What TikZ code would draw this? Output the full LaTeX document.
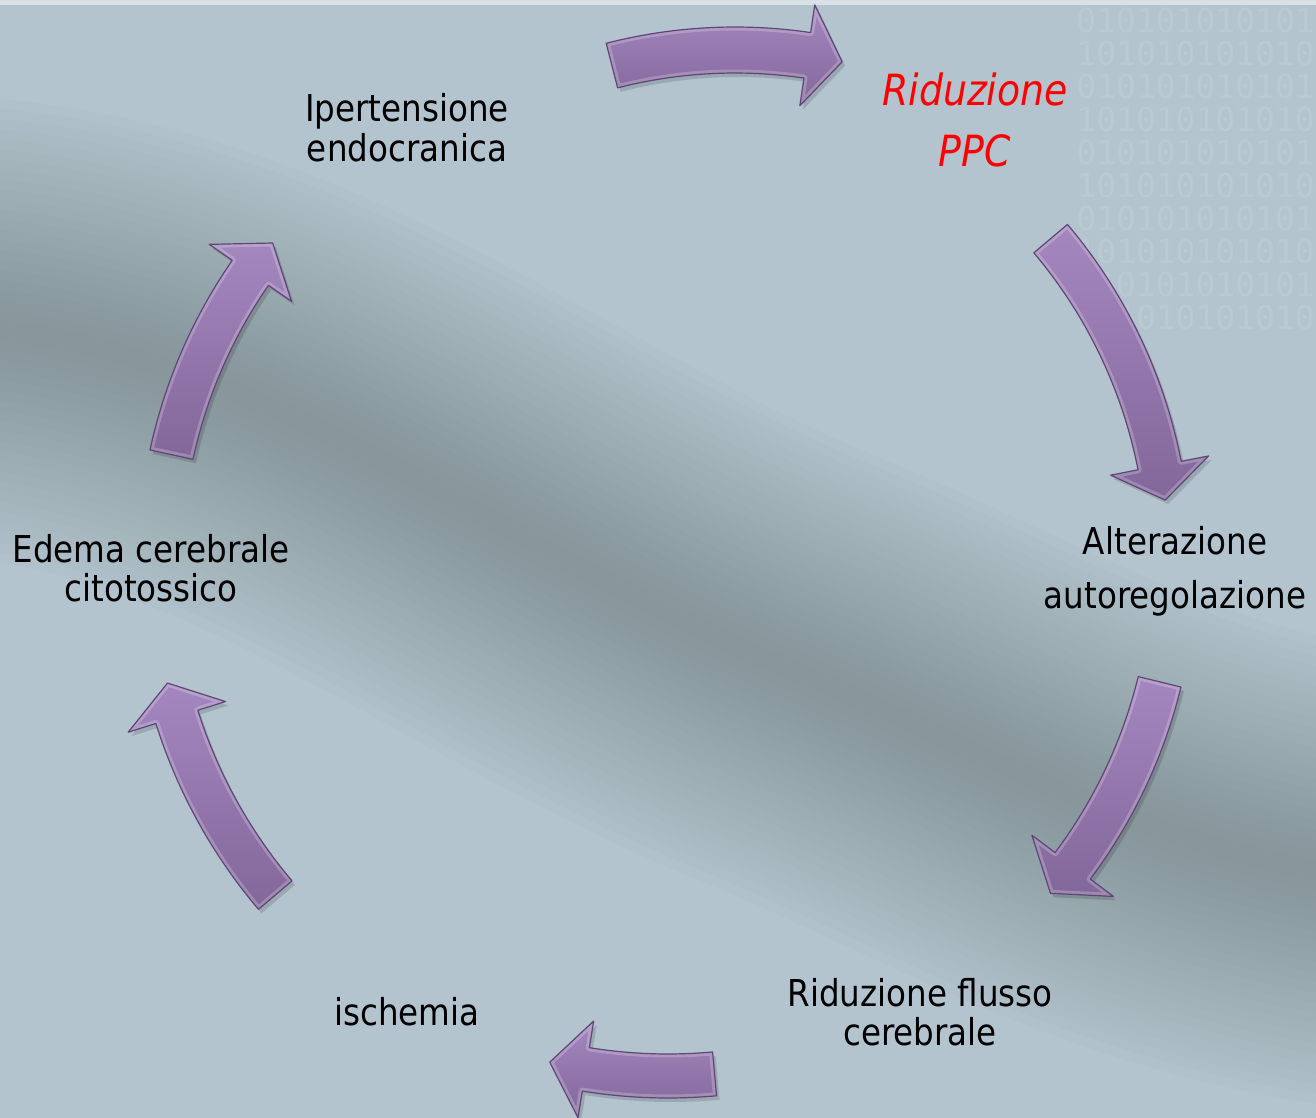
\documentclass[tikz,border=0pt]{standalone}
\usepackage{fontspec}
\setmainfont{DejaVu Sans}[FakeStretch=0.88, ItalicFont={DejaVu Sans Oblique}, BoldFont={DejaVu Sans Bold}]
\newfontfamily\bitsfont{DejaVu Sans Mono}
\usetikzlibrary{calc}

\definecolor{bgbase}{HTML}{B4C4CF}
\definecolor{bgdark}{HTML}{687676}
\definecolor{arrowlight}{HTML}{A487BF}
\definecolor{arrowdark}{HTML}{82679A}
\definecolor{arrowedge}{HTML}{5E4675}
\definecolor{pptred}{HTML}{FF0000}

% #1 cx, #2 cy (px), #3 radius, #4 tail angle, #5 head-base angle, #6 tip angle, #7 body half width, #8 head half width
\newcommand\cycarrowpath[8]{%
  ($(#1,-#2)+({#4}:{#3+#7})$) arc[start angle={#4}, end angle={#5}, radius={#3+#7}]
  -- ($(#1,-#2)+({#5}:{#3+#8})$) -- ($(#1,-#2)+({#6}:{#3})$)
  -- ($(#1,-#2)+({#5}:{#3-#8})$) -- ($(#1,-#2)+({#5}:{#3-#7})$)
  arc[start angle={#5}, end angle={#4}, radius={#3-#7}] -- cycle}

\newcommand\cycarrow[8]{%
  \fill[black, opacity=0.14, transform canvas={xshift=1.5pt, yshift=-2pt}] \cycarrowpath{#1}{#2}{#3}{#4}{#5}{#6}{#7}{#8};
  \path[arrowshape] \cycarrowpath{#1}{#2}{#3}{#4}{#5}{#6}{#7}{#8};
  \begin{scope}
    \clip \cycarrowpath{#1}{#2}{#3}{#4}{#5}{#6}{#7}{#8};
    \draw[white, opacity=0.22, line width=3.5pt, line join=round] \cycarrowpath{#1}{#2}{#3}{#4}{#5}{#6}{#7}{#8};
  \end{scope}
  \draw[arrowedge, line width=0.6pt, line join=round] \cycarrowpath{#1}{#2}{#3}{#4}{#5}{#6}{#7}{#8};
}

\newcommand\twolines[2]{\begin{tabular}[t]{@{}c@{}}#1\\#2\end{tabular}}

\tikzset{
  arrowshape/.style={top color=arrowlight, bottom color=arrowdark},
  lbl/.style={inner sep=0pt, anchor=base, text=black, font=\fontsize{18.5pt}{19.5pt}\selectfont},
  redlbl/.style={inner sep=0pt, anchor=base, text=pptred, font=\itshape\fontsize{21.5pt}{30.5pt}\selectfont},
}

\begin{document}
\begin{tikzpicture}[x=0.5pt,y=0.5pt]
\useasboundingbox (0,0) rectangle (1316,-1118);
\clip (0,0) rectangle (1316,-1118);
% background
\fill[bgbase] (0,0) rectangle (1316,-1118);
\foreach \w in {460,440,...,20}{
  \draw[bgdark, opacity=0.028, line width=\w*0.5pt]
    (-80,-325) .. controls (250,-330) and (480,-540) .. (780,-665)
    .. controls (1000,-755) and (1150,-860) .. (1420,-885);
}
\fill[white, opacity=0.5] (0,0) rectangle (1316,-5);
% faint binary texture, top right
\node[anchor=north west, inner sep=0pt, text=white, opacity=0.09, align=left,
      font=\bitsfont\fontsize{16.5pt}{16.5pt}\selectfont] (bits) at (1076,-8)
  {010101010101\\101010101010\\010101010101\\101010101010\\010101010101\\101010101010\\010101010101\\101010101010\\010101010101\\101010101010};

% arrows
\cycarrow{735}{545}{495}{104.4}{81.6}{77.5}{23}{51}
\cycarrow{668}{562}{501}{40.2}{11.1}{7.1}{22}{50}
\cycarrow{668}{562}{506}{-13.7}{-36.9}{-40.9}{22}{51}
\cycarrow{668}{562}{514}{-84.8}{-99.2}{-103.3}{22}{49}
\cycarrow{668}{562}{515}{-139.7}{-162.5}{-166.4}{22}{51}
\cycarrow{668}{562}{508}{167.8}{145.3}{141.1}{22}{50}

% labels
\node[lbl] (ipertensione) at (407,-122) {\twolines{Ipertensione}{endocranica}};
\node[redlbl] (ppc) at (975,-106) {\twolines{Riduzione}{PPC}};
\node[lbl, font=\fontsize{18.5pt}{27pt}\selectfont] (alterazione) at (1175,-554) {\twolines{Alterazione}{autoregolazione}};
\node[lbl] (flusso) at (920,-1006) {\twolines{Riduzione flusso}{cerebrale}};
\node[lbl] (ischemia) at (407,-1025) {ischemia};
\node[lbl] (edema) at (151,-562) {\twolines{Edema cerebrale}{citotossico}};
\end{tikzpicture}
\end{document}
